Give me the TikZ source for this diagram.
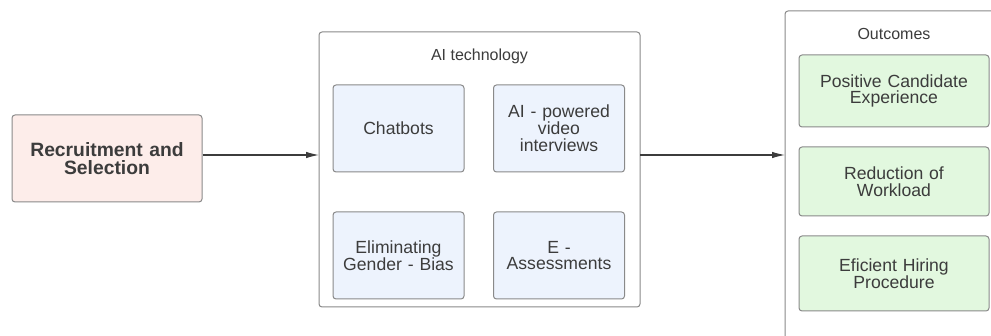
\documentclass[tikz,border=0pt]{standalone}
\usepackage{fontspec}
\setmainfont{Liberation Sans}
\usetikzlibrary{arrows.meta}
\definecolor{edge}{HTML}{8A8A8A}
\definecolor{ink}{HTML}{3C3C3C}
\definecolor{pinkfill}{HTML}{FDEDEA}
\definecolor{bluefill}{HTML}{EDF3FD}
\definecolor{greenfill}{HTML}{E2F8DF}
\tikzset{
  box/.style={draw=edge, line width=1pt, rounded corners=3pt, align=center, text=ink, inner sep=2pt},
  techbox/.style={box, fill=bluefill, minimum width=131pt, minimum height=87pt, text width=125pt,
    font=\fontsize{17.6}{16.8}\selectfont},
  outbox/.style={box, fill=greenfill, minimum width=190pt, text width=184pt,
    font=\fontsize{17.6}{16.8}\selectfont},
  frame/.style={draw=edge, line width=1pt, rounded corners=3pt},
  title/.style={text=ink, font=\fontsize{16}{18}\selectfont},
  link/.style={draw=ink, line width=1.1pt, -{Latex[length=13pt,width=6.5pt]}}
}
\begin{document}
\begin{tikzpicture}[x=1pt,y=-1pt]
\clip (0,0) rectangle (991,336);
\fill[white] (0,0) rectangle (991,336);
\node[box, fill=pinkfill, minimum width=190pt, minimum height=87pt, text width=184pt,
  font=\fontsize{19.3}{18.4}\selectfont\bfseries] (rs) at (107,158.5) {Recruitment and\\Selection};
\draw[frame] (319,32) rectangle (640,307);
\coordinate (aiw) at (319,155);
\coordinate (aie) at (640,155);
\node[title] (aititle) at (479.5,56) {AI technology};
\node[techbox] (chat) at (398.5,128.5) {Chatbots};
\node[techbox] (video) at (559,128.5) {AI - powered\\video\\interviews};
\node[techbox] (bias) at (398.5,255.5) {Eliminating\\Gender - Bias};
\node[techbox] (eass) at (559,255.5) {E -\\Assessments};
\draw[frame] (785,11) rectangle (1010,350);
\coordinate (outw) at (785,155);
\node[title] (outtitle) at (894,34) {Outcomes};
\node[outbox, minimum height=72pt] (pce) at (894,91) {Positive Candidate\\Experience};
\node[outbox, minimum height=69pt] (row) at (894,181.5) {Reduction of\\Workload};
\node[outbox, minimum height=75pt] (ehp) at (894,273.5) {Eficient Hiring\\Procedure};
\draw[link] (rs.east |- aiw) -- (aiw);
\draw[link] (aie) -- (outw);
\end{tikzpicture}
\end{document}
